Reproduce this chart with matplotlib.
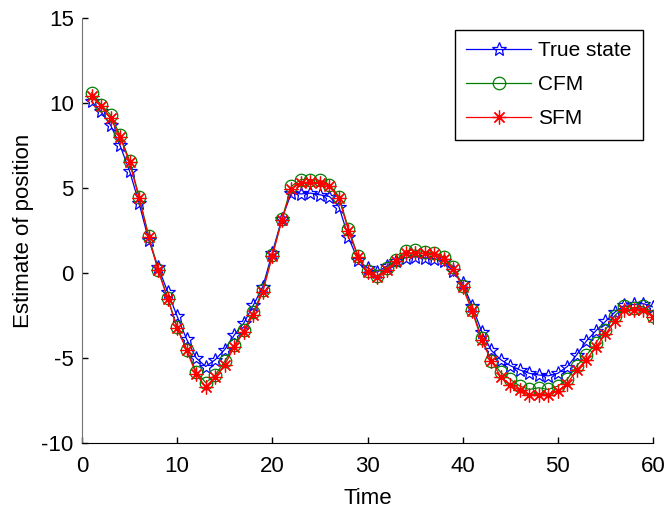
import matplotlib
matplotlib.use("Agg")
import matplotlib.pyplot as plt
import numpy as np

plt.rcParams['font.family'] = ['Liberation Sans', 'DejaVu Sans']
plt.rcParams['axes.unicode_minus'] = False

time = list(range(1, 61))
true_state = [10.1, 9.5, 8.7, 7.5, 6.0, 4.1, 1.95, 0.35, -1.1, -2.55,
              -3.9, -5.0, -5.5, -5.1, -4.5, -3.65, -2.95, -1.9, -0.8, 1.2,
              3.2, 4.7, 4.65, 4.7, 4.6, 4.5, 3.9, 2.1, 0.75, 0.3,
              0.05, 0.4, 0.7, 0.9, 0.95, 0.9, 0.85, 0.7, 0.1, -0.6,
              -1.95, -3.45, -4.55, -5.1, -5.45, -5.7, -5.9, -6.0, -6.05, -5.9,
              -5.5, -4.8, -4.0, -3.4, -2.85, -2.3, -1.9, -1.85, -1.8, -2.0]
cfm = [10.6, 9.9, 9.3, 8.1, 6.6, 4.5, 2.2, 0.2, -1.45, -3.2,
       -4.5, -5.8, -6.45, -6.0, -5.2, -4.25, -3.35, -2.3, -1.0, 1.05,
       3.15, 5.1, 5.5, 5.5, 5.45, 5.2, 4.5, 2.6, 1.0, 0.1,
       -0.2, 0.3, 0.75, 1.3, 1.35, 1.25, 1.2, 0.95, 0.35, -0.75,
       -2.15, -3.8, -5.15, -5.85, -6.25, -6.65, -6.85, -6.75, -6.85, -6.65,
       -6.25, -5.45, -4.85, -4.1, -3.35, -2.5, -1.95, -2.05, -1.95, -2.55]
sfm = [10.4, 9.8, 9.1, 8.0, 6.5, 4.4, 2.1, 0.15, -1.5, -3.25,
       -4.55, -5.95, -6.7, -6.1, -5.4, -4.35, -3.45, -2.45, -1.1, 1.0,
       3.1, 4.95, 5.3, 5.35, 5.3, 5.1, 4.4, 2.5, 0.95, 0.05,
       -0.25, 0.2, 0.7, 1.15, 1.2, 1.15, 1.1, 0.85, 0.25, -0.85,
       -2.25, -3.95, -5.15, -6.1, -6.6, -6.9, -7.15, -7.15, -7.15, -6.95,
       -6.5, -5.7, -5.1, -4.35, -3.6, -2.8, -2.2, -2.15, -2.15, -2.6]

xticks = [0, 10, 20, 30, 40, 50, 60]
yticks = [-10, -5, 0, 5, 10, 15]

fs = 16

fig = plt.figure(figsize=(6.66, 5.11), dpi=100)
ax = fig.add_axes([82/666, 1-443/511, (653-82)/666, (443-18)/511])

ax.plot(time, true_state, color=(0, 0, 1), lw=0.9, marker='*', ms=10,
        mfc='none', mec=(0, 0, 1), mew=0.9, label='True state')
ax.plot(time, cfm, color=(0, 0.5, 0), lw=0.9, marker='o', ms=9,
        mfc='none', mec=(0, 0.5, 0), mew=0.9, label='CFM')
ax.plot(time, sfm, color=(1, 0, 0), lw=0.9, marker=(8, 2, 0), ms=10,
        mfc='none', mec=(1, 0, 0), mew=0.9, label='SFM')

ax.set_xlim(0, 60)
ax.set_ylim(-10, 15)
ax.set_xticks(xticks)
ax.set_yticks(yticks)
ax.tick_params(direction='in', length=4, width=1, labelsize=fs, pad=6)
ax.tick_params(axis='x', pad=9)
for s in ['top', 'right']:
    ax.spines[s].set_visible(False)
ax.spines['left'].set_color('0.45')
ax.spines['bottom'].set_color('black')
ax.set_xlabel('Time', fontsize=fs, labelpad=8)
ax.set_ylabel('Estimate of position', fontsize=fs, labelpad=5)

leg = ax.legend(loc='upper right', bbox_to_anchor=(643/666, 1-30/511),
                bbox_transform=fig.transFigure, borderaxespad=0,
                fancybox=False, framealpha=1, edgecolor='black',
                fontsize=15, numpoints=1, handlelength=3.1,
                handletextpad=0.35, labelspacing=0.72, borderpad=0.55)
leg.get_frame().set_linewidth(1.0)

fig.savefig('out.png', dpi=100)
